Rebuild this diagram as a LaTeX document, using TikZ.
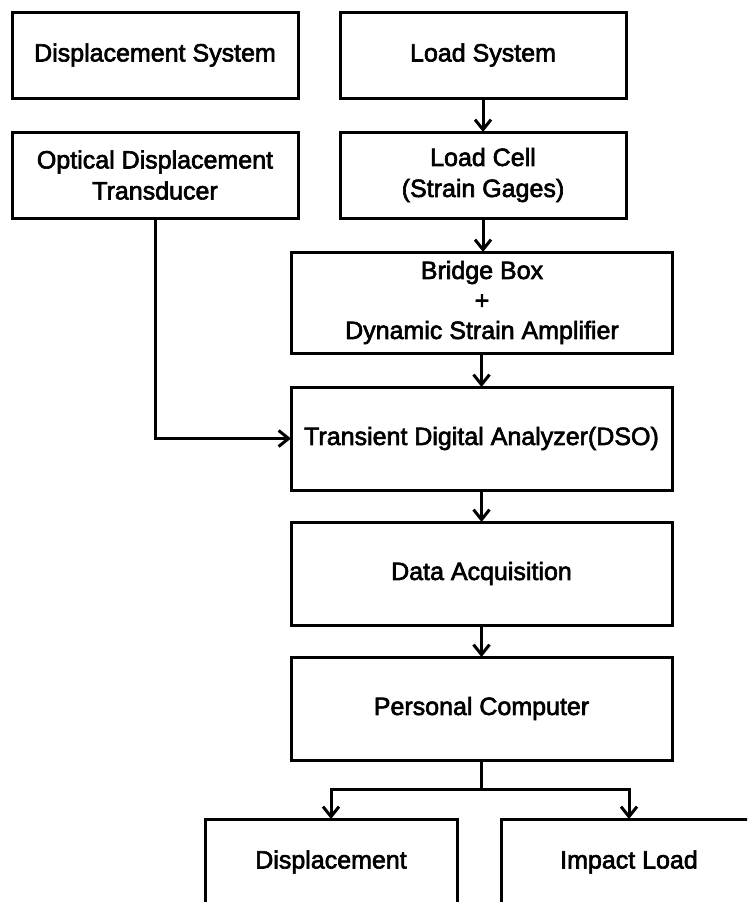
\documentclass[tikz,border=0pt]{standalone}
\usepackage{fontspec}
\setmainfont{Liberation Sans}[BoldFont=Liberation Sans,BoldFeatures={FakeBold=2.5}]
\usetikzlibrary{arrows.meta}
\begin{document}
\begin{tikzpicture}[x=1pt,y=-1pt,
  box/.style={draw=black,line width=3pt,fill=white,rectangle,inner sep=0pt,outer sep=0pt,
    align=center,font=\fontsize{25}{31}\selectfont\bfseries},
  arr/.style={line width=3pt,-{Straight Barb[length=10pt,width=16pt,line width=3pt]}},
  conn/.style={line width=3pt}]
\fill[white] (0,0) rectangle (747,902);
\useasboundingbox (0,0) rectangle (747,902);
\clip (0,0) rectangle (747,902);
\node[box,minimum width=286pt,minimum height=86pt] (dispsys) at (155,55) {Displacement System};
\node[box,minimum width=286pt,minimum height=86pt] (loadsys) at (483,55) {Load System};
\node[box,minimum width=286pt,minimum height=86pt] (optical) at (155,175) {Optical Displacement\\Transducer};
\node[box,minimum width=286pt,minimum height=86pt] (loadcell) at (483,175) {Load Cell\\(Strain Gages)};
\node[box,minimum width=381pt,minimum height=101pt,font=\fontsize{25}{30}\selectfont\bfseries] (bridge) at (482,302.5) {Bridge Box\\+\\Dynamic Strain Amplifier};
\node[box,minimum width=381pt,minimum height=103pt] (tda) at (481.5,438.5) {Transient Digital Analyzer(DSO)};
\node[box,minimum width=381pt,minimum height=103pt] (daq) at (481.5,573.5) {Data Acquisition};
\node[box,minimum width=381pt,minimum height=103pt] (pc) at (481.5,708.5) {Personal Computer};
\node[box,minimum width=252pt,minimum height=86pt] (disp) at (331,862) {Displacement};
\node[box,minimum width=256pt,minimum height=86pt] (impact) at (629,862) {Impact Load};
\draw[arr] (loadsys) -- (loadcell);
\draw[arr] (loadcell.south) -- (loadcell.south |- bridge.north);
\draw[arr] (bridge.south -| tda.north) -- (tda.north);
\draw[arr] (tda) -- (daq);
\draw[arr] (daq) -- (pc);
\draw[arr] (optical.south) |- (tda.west);
\coordinate (split) at (481.5,789);
\draw[conn] (pc.south) -- (split);
\draw[arr] (split) -| (disp.north);
\draw[arr] (split) -| (impact.north);
\end{tikzpicture}
\end{document}
